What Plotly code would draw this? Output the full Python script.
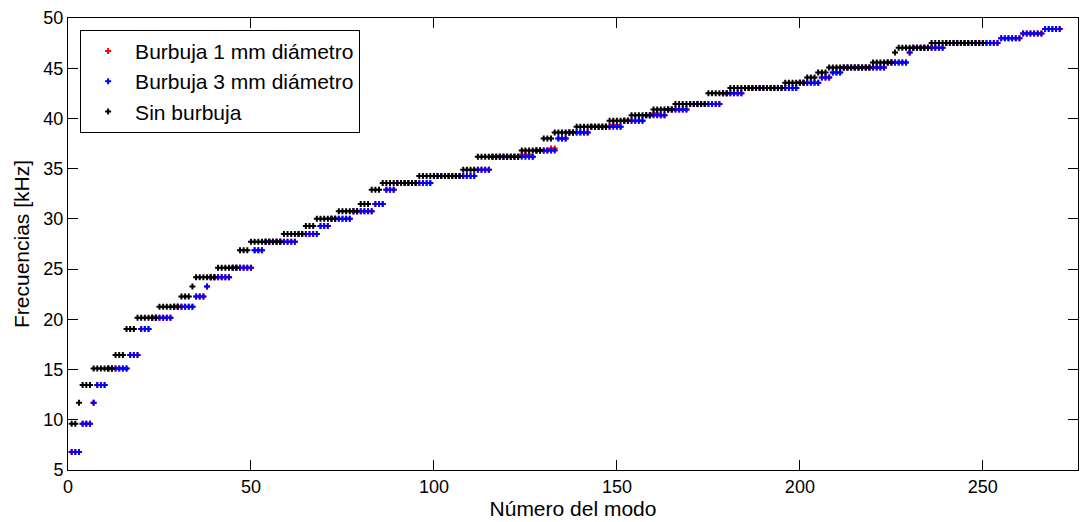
import numpy as np
import plotly.graph_objects as go

levels_black = [9.6, 11.7, 13.45, 15.1, 16.45, 19.03, 20.16, 21.26, 22.27, 23.26,
                24.2, 25.14, 26.89, 27.72, 28.49, 29.29, 30.02, 30.75, 31.48, 32.9,
                33.57, 34.27, 34.9, 36.19, 36.81, 38.01, 38.6, 39.18, 39.76, 40.32,
                40.88, 41.43, 42.5, 43.03, 43.55, 44.07, 44.58, 45.08, 45.58, 46.56,
                47.04, 47.52]
counts_black = [2, 1, 3, 6, 3, 3, 6, 6, 3, 1,
                6, 6, 3, 9, 6, 3, 6, 6, 3, 3,
                10, 12, 4, 12, 6, 3, 6, 9, 6, 6,
                6, 9, 6, 15, 6, 3, 3, 12, 6, 1,
                9, 15]

levels_blue = [6.8, 9.6, 11.7, 13.45, 15.1, 16.45, 19.03, 20.16, 21.26, 22.27, 23.26,
               24.2, 25.14, 26.89, 27.72, 28.49, 29.29, 30.02, 30.75, 31.48, 32.9,
               33.57, 34.27, 34.9, 36.19, 36.81, 38.01, 38.6, 39.18, 39.76, 40.32,
               40.88, 41.43, 42.5, 43.03, 43.55, 44.07, 44.58, 45.08, 45.58, 46.56,
               47.04, 47.52, 47.99, 48.46, 48.9]
counts_blue = [3, 3, 1, 3, 6, 3, 3, 6, 6, 3, 1,
               6, 6, 3, 9, 6, 3, 6, 6, 3, 3,
               10, 12, 4, 12, 6, 3, 6, 9, 6, 6,
               6, 9, 6, 15, 6, 3, 3, 12, 6, 1,
               9, 15, 6, 6, 5]

# 1 mm bubble: same levels as the 3 mm case, except a few modes that show above it
levels_red = list(levels_blue)
counts_red = list(counts_blue)
red_mode_idx = [124, 125, 126, 132, 133, 149, 150, 160, 161]
red_mode_val = [36.38, 36.38, 36.38, 37.0, 37.0, 39.35, 39.35, 40.5, 40.5]

x_ticks = [0, 50, 100, 150, 200, 250]
y_ticks = [5, 10, 15, 20, 25, 30, 35, 40, 45, 50]

y_black = np.repeat(levels_black, counts_black)
y_blue = np.repeat(levels_blue, counts_blue)
y_red = np.repeat(levels_red, counts_red).astype(float)
for i, v in zip(red_mode_idx, red_mode_val):
    y_red[i - 1] = v

x_black = np.arange(1, len(y_black) + 1)
x_blue = np.arange(1, len(y_blue) + 1)
x_red = np.arange(1, len(y_red) + 1)

FONT = "Liberation Sans, Arial, sans-serif"
msize = 5
msym = "cross"

fig = go.Figure()
fig.add_trace(go.Scatter(x=x_red, y=y_red, mode="markers", name="Burbuja 1 mm diámetro",
                         marker=dict(color="#ff0000", size=msize, symbol=msym, line=dict(width=0))))
fig.add_trace(go.Scatter(x=x_blue, y=y_blue, mode="markers", name="Burbuja 3 mm diámetro",
                         marker=dict(color="#0000ff", size=msize, symbol=msym, line=dict(width=0))))
fig.add_trace(go.Scatter(x=x_black, y=y_black, mode="markers", name="Sin burbuja",
                         marker=dict(color="#000000", size=msize, symbol=msym, line=dict(width=0))))

axis_common = dict(showline=True, linecolor="black", linewidth=1, mirror="ticks",
                   ticks="inside", ticklen=10, tickcolor="black", showgrid=False,
                   zeroline=False, automargin=False,
                   tickfont=dict(family=FONT, size=18, color="black"))

# the page body adds an 8 px margin, so the figure is sized to fit the window
fig.update_layout(
    width=1082, height=514,
    margin=dict(l=60, r=12, t=10, b=52),
    paper_bgcolor="white", plot_bgcolor="white",
    font=dict(family=FONT, color="black"),
    showlegend=True,
    legend=dict(x=0.012, y=0.974, xanchor="left", yanchor="top",
                bgcolor="white", bordercolor="black", borderwidth=1,
                font=dict(family=FONT, size=21, color="black"),
                itemwidth=44),
    xaxis=dict(range=[0, 276], tickvals=x_ticks,
               title=dict(text="Número del modo", font=dict(family=FONT, size=21), standoff=4),
               **axis_common),
    yaxis=dict(range=[5, 50], tickvals=y_ticks,
               title=dict(text="Frecuencias [kHz]", font=dict(family=FONT, size=21), standoff=8),
               **axis_common),
)

fig.write_html("out.html")
